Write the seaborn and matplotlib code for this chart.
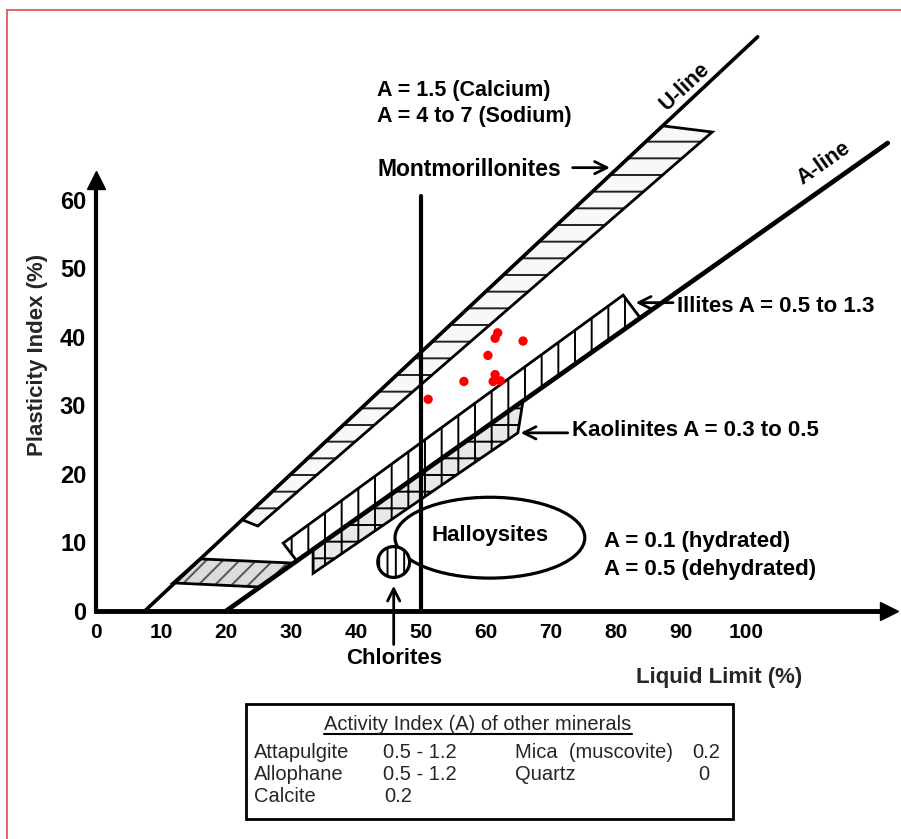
import numpy as np
import pandas as pd
import matplotlib
matplotlib.use('Agg')
import matplotlib.pyplot as plt
from matplotlib.patches import Polygon, Ellipse, Rectangle
from matplotlib.lines import Line2D
import seaborn as sns

# ── data (LL = liquid limit %, PI = plasticity index %) ──
ll_ticks = [0, 10, 20, 30, 40, 50, 60, 70, 80, 90, 100]
pi_ticks = [0, 10, 20, 30, 40, 50, 60]

u_line_ll = [7.5, 101.8]
u_line_pi = [0.0, 83.8]
a_line_ll = [20.0, 121.8]
a_line_pi = [0.0, 68.3]
ll50_ll = [50.0, 50.0]
ll50_pi = [0.0, 60.5]

mont_ll = [22.5, 87.2, 94.8, 24.9]
mont_pi = [13.3, 70.8, 69.9, 12.4]
illite_ll = [28.8, 81.1, 83.7, 30.9]
illite_pi = [9.9, 46.1, 42.8, 7.3]
kaol_ll = [33.4, 65.7, 64.9, 33.4]
kaol_pi = [9.05, 30.7, 26.0, 5.5]
low_band_ll = [11.85, 16.0, 30.2, 25.2]
low_band_pi = [4.1, 7.6, 7.0, 3.5]

halloysite_center = (60.6, 10.7)
halloysite_size = (29.2, 11.8)
chlorite_center = (45.8, 7.15)
chlorite_size = (4.9, 4.5)

sample_ll = [61.8, 61.4, 65.7, 60.3, 56.6, 61.4, 61.1, 62.2, 51.1]
sample_pi = [40.6, 39.8, 39.4, 37.3, 33.5, 34.5, 33.5, 33.6, 30.9]

activity_minerals = ['Attapulgite', 'Allophane', 'Calcite', 'Mica  (muscovite)', 'Quartz']
activity_values = ['0.5 - 1.2', '0.5 - 1.2', '0.2', '0.2', '0']

# ── style ──
sns.set_style('white')
plt.rcParams['font.family'] = ['Liberation Sans', 'DejaVu Sans']
plt.rcParams['hatch.linewidth'] = 1.4

W, H = 901, 839
fig = plt.figure(figsize=(W / 100, H / 100), dpi=100)
fig.patch.set_facecolor('white')

# red frame of the screenshot
fig.add_artist(Line2D([7 / W, 1], [1 - 10 / H, 1 - 10 / H], color='#e05a5a', lw=1.3))
fig.add_artist(Line2D([7 / W, 7 / W], [0, 1 - 10 / H], color='#e05a5a', lw=1.3))

# axes: origin at pixel (96, 611), 6.5 px per LL unit, 6.85 px per PI unit
ax = fig.add_axes([96 / W, 228 / H, 793 / W, 431 / H])
ax.set_xlim(0, 122)
ax.set_ylim(0, 62.9)
ax.set_facecolor('none')
for s in ['top', 'right']:
    ax.spines[s].set_visible(False)
ax.spines['left'].set_linewidth(3)
ax.spines['bottom'].set_linewidth(3.5)
ax.spines['left'].set_color('black')
ax.spines['bottom'].set_color('black')
ax.plot(1, 0, '>k', ms=13, transform=ax.get_yaxis_transform(), clip_on=False)
ax.plot(0, 1, '^k', ms=13, transform=ax.get_xaxis_transform(), clip_on=False)

ax.set_xticks(ll_ticks)
ax.set_yticks(pi_ticks)
ax.tick_params(axis='x', direction='in', length=6, width=1.5, pad=9, labelsize=15, colors='black')
ax.tick_params(axis='y', direction='inout', length=12, width=1.5, pad=1, labelsize=17, colors='black')
for lab in ax.get_xticklabels() + ax.get_yticklabels():
    lab.set_fontweight('bold')

ax.set_ylabel('Plasticity Index (%)', fontsize=16, fontweight='bold', va='center')
ax.yaxis.set_label_coords((38 - 96) / 793, (611 - 355) / 431)
ax.set_xlabel('Liquid Limit (%)', fontsize=16, fontweight='bold', ha='left', va='center')
ax.xaxis.set_label_coords((636 - 96) / 793, (611 - 677) / 431)

# ── mineral zones ──
def zone(ll, pi, face, hatch, hatch_color, z=2):
    xy = np.column_stack([ll, pi])
    ax.add_patch(Polygon(xy, closed=True, facecolor=face, edgecolor=hatch_color,
                         hatch=hatch, lw=0, clip_on=False, zorder=z))
    ax.add_patch(Polygon(xy, closed=True, facecolor='none', edgecolor='black',
                         lw=2, clip_on=False, zorder=z + 0.1))

zone(mont_ll, mont_pi, '#f8f8f8', '-', '#222222')
zone(illite_ll, illite_pi, 'white', '|', 'black')
zone(kaol_ll, kaol_pi, '#e8e8e8', '+', 'black')
zone(low_band_ll, low_band_pi, '#dcdcdc', '//', '#555555')

ax.add_patch(Ellipse(halloysite_center, *halloysite_size, facecolor='none',
                     edgecolor='black', lw=2.3, zorder=3))
ax.add_patch(Ellipse(chlorite_center, *chlorite_size, facecolor='white',
                     edgecolor='black', hatch='||', lw=2.3, zorder=3))

# ── U-line, A-line and LL = 50 ──
sns.lineplot(x=u_line_ll, y=u_line_pi, ax=ax, color='black', lw=2.6, clip_on=False, zorder=4)
sns.lineplot(x=a_line_ll, y=a_line_pi, ax=ax, color='black', lw=3.4, clip_on=False, zorder=4)
ax.plot(ll50_ll, ll50_pi, color='black', lw=3, clip_on=False, zorder=4)

# ── soil samples ──
sns.scatterplot(x=sample_ll, y=sample_pi, ax=ax, color='red', s=45,
                edgecolor='none', zorder=6, legend=False)

# ── labels ──
bold = dict(fontweight='bold', color='black')
ax.text(43.2, 75.9, 'A = 1.5 (Calcium)', fontsize=15.5, va='center', **bold)
ax.text(43.2, 72.1, 'A = 4 to 7 (Sodium)', fontsize=15.5, va='center', **bold)
ax.text(71.6, 64.5, 'Montmorillonites', fontsize=16.5, ha='right', va='center', **bold)
ax.text(90.6, 76.5, 'U-line', fontsize=15.5, rotation=43, ha='center', va='center', **bold)
ax.text(112.0, 65.4, 'A-line', fontsize=15.5, rotation=35, ha='center', va='center', **bold)
ax.text(89.4, 44.4, 'Illites A = 0.5 to 1.3', fontsize=16, va='center', **bold)
ax.text(73.2, 26.3, 'Kaolinites A = 0.3 to 0.5', fontsize=16, va='center', **bold)
ax.text(60.6, 11.0, 'Halloysites', fontsize=16, ha='center', va='center', **bold)
ax.text(78.2, 10.2, 'A = 0.1 (hydrated)', fontsize=16, va='center', **bold)
ax.text(78.2, 6.1, 'A = 0.5 (dehydrated)', fontsize=16, va='center', **bold)
ax.text(45.8, -7.0, 'Chlorites', fontsize=16, ha='center', va='center', **bold)

arrow = dict(arrowstyle='->', lw=2, color='black', mutation_scale=22)
for tail, head in [((72.9, 64.7), (79.5, 64.7)),
                   ((89.2, 45.0), (82.6, 45.0)),
                   ((73.0, 26.0), (64.9, 26.0)),
                   ((45.8, -5.3), (45.8, 4.1))]:
    ax.annotate('', xy=head, xytext=tail, arrowprops=arrow, annotation_clip=False)

# ── activity index box ──
fig.add_artist(Rectangle((246 / W, 1 - 819 / H), 487 / W, 115 / H, fill=False,
                         edgecolor='black', lw=2, transform=fig.transFigure))
title = fig.text(478 / W, 1 - 725 / H, 'Activity Index (A) of other minerals',
                 fontsize=14.5, ha='center', va='center')
row_y = [753, 775, 797, 753, 775]
name_x = [254, 254, 254, 515, 515]
val_x = [383, 383, 384, 720, 698]
val_ha = ['left', 'left', 'left', 'right', 'left']
for name, val, y, nx, vx, ha in zip(activity_minerals, activity_values, row_y, name_x, val_x, val_ha):
    fig.text(nx / W, 1 - y / H, name, fontsize=14.5, ha='left', va='center')
    fig.text(vx / W, 1 - y / H, val, fontsize=14.5, ha=ha, va='center')

fig.canvas.draw()
bb = title.get_window_extent().transformed(fig.transFigure.inverted())
fig.add_artist(Line2D([bb.x0, bb.x1], [bb.y0 + 0.001, bb.y0 + 0.001], color='black', lw=1.5))

plt.savefig('out.png', dpi=100)
plt.close()
